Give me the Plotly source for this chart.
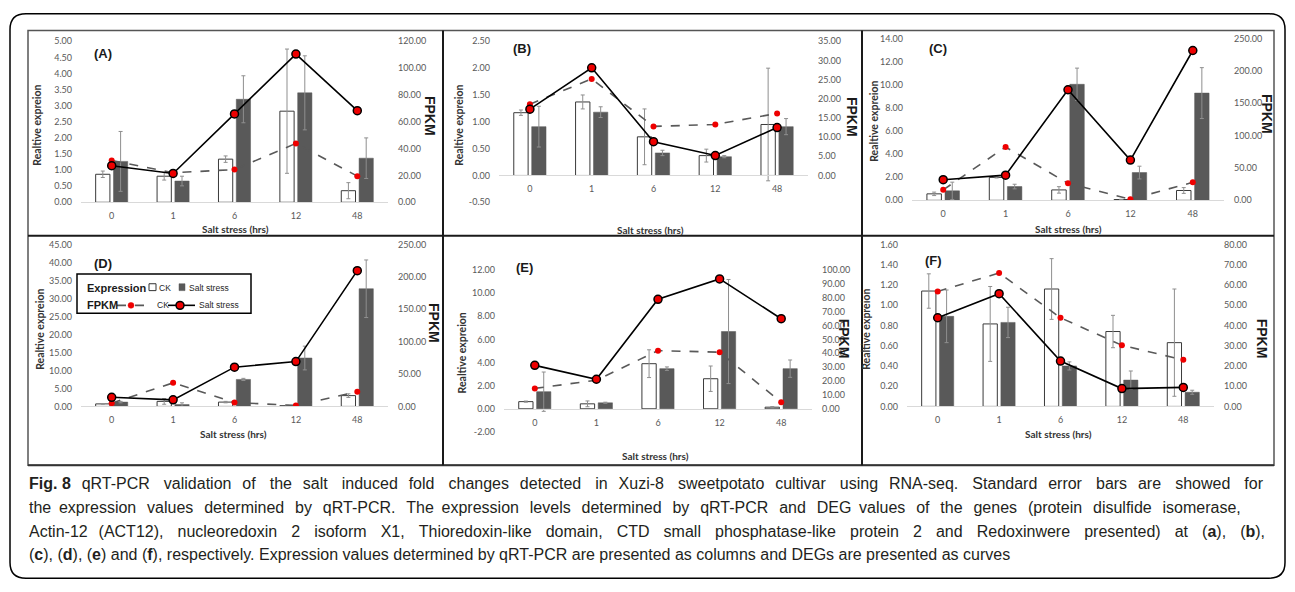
import plotly.graph_objects as go

W, H = 1295, 592

times = ["0", "1", "6", "12", "48"]
panel_labels = ["(A)", "(B)", "(C)", "(D)", "(E)", "(F)"]

# ---- data ----
A_ck = [0.87, 0.81, 1.34, 2.83, 0.36]
A_ck_err = [0.10, 0.12, 0.10, 1.93, 0.25]
A_salt = [1.27, 0.66, 3.20, 3.40, 1.37]
A_salt_err = [0.93, 0.15, 0.73, 1.15, 0.63]
A_fpkm_ck = [31.2, 22.0, 24.4, 43.9, 19.5]
A_fpkm_salt = [27.3, 21.5, 65.9, 110.5, 68.3]

B_ck = [1.17, 1.37, 0.72, 0.37, 0.95]
B_ck_err = [0.05, 0.13, 0.52, 0.12, 1.05]
B_salt = [0.91, 1.18, 0.42, 0.35, 0.91]
B_salt_err = [0.38, 0.10, 0.05, 0.02, 0.15]
B_fpkm_ck = [18.6, 25.2, 12.8, 13.3, 16.2]
B_fpkm_salt = [17.3, 28.1, 8.8, 5.2, 12.5]

C_ck = [0.56, 1.98, 0.90, 0.07, 0.85]
C_ck_err = [0.15, 0.05, 0.28, 0.02, 0.25]
C_salt = [0.82, 1.19, 10.03, 2.40, 9.27]
C_salt_err = [0.75, 0.20, 1.40, 0.55, 2.20]
C_fpkm_ck = [16.2, 82.3, 26.3, 1.5, 27.8]
C_fpkm_salt = [31.8, 38.9, 170.7, 62.1, 231.3]

D_ck = [0.70, 1.40, 1.20, 0.20, 3.00]
D_ck_err = [0.10, 0.80, 0.20, 0.10, 0.50]
D_salt = [1.20, 0.50, 7.50, 13.45, 32.70]
D_salt_err = [0.20, 0.50, 0.30, 3.30, 8.00]
D_fpkm_ck = [5.0, 36.4, 6.0, 1.5, 22.7]
D_fpkm_salt = [14.1, 10.1, 60.6, 69.2, 209.6]

E_ck = [0.62, 0.43, 3.90, 2.60, 0.14]
E_ck_err = [0.05, 0.25, 1.20, 1.10, 0.05]
E_salt = [1.48, 0.52, 3.47, 6.68, 3.47]
E_salt_err = [1.70, 0.05, 0.15, 4.50, 0.75]
E_fpkm_ck = [14.7, 20.6, 41.9, 40.8, 4.7]
E_fpkm_salt = [31.3, 21.3, 78.9, 93.6, 64.9]

F_ck = [1.14, 0.815, 1.16, 0.74, 0.63]
F_ck_err = [0.17, 0.37, 0.30, 0.16, 0.53]
F_salt = [0.89, 0.83, 0.40, 0.26, 0.14]
F_salt_err = [0.26, 0.15, 0.04, 0.09, 0.02]
F_fpkm_ck = [56.8, 65.9, 43.8, 30.2, 23.0]
F_fpkm_salt = [43.8, 55.7, 22.4, 8.8, 9.4]

# left axis ticks / right axis ticks per panel
A_left_ticks = [i * 0.5 for i in range(11)]
A_right_ticks = [i * 20 for i in range(7)]
B_left_ticks = [-0.5 + i * 0.5 for i in range(7)]
B_right_ticks = [i * 5 for i in range(8)]
C_left_ticks = [i * 2 for i in range(8)]
C_right_ticks = [i * 50 for i in range(6)]
D_left_ticks = [i * 5 for i in range(10)]
D_right_ticks = [i * 50 for i in range(6)]
E_left_ticks = [-2 + i * 2 for i in range(8)]
E_right_ticks = [i * 10 for i in range(11)]
F_left_ticks = [i * 0.2 for i in range(9)]
F_right_ticks = [i * 10 for i in range(9)]

panels = [
    dict(ck=A_ck, cke=A_ck_err, salt=A_salt, salte=A_salt_err, fck=A_fpkm_ck, fsalt=A_fpkm_salt,
         lt=A_left_ticks, rt=A_right_ticks, lr=[0, 5], rr=[0, 120],
         x=(81, 388), y=(36, 200)),
    dict(ck=B_ck, cke=B_ck_err, salt=B_salt, salte=B_salt_err, fck=B_fpkm_ck, fsalt=B_fpkm_salt,
         lt=B_left_ticks, rt=B_right_ticks, lr=[-0.5, 2.5], rr=[-7, 35],
         x=(499, 808), y=(36, 200)),
    dict(ck=C_ck, cke=C_ck_err, salt=C_salt, salte=C_salt_err, fck=C_fpkm_ck, fsalt=C_fpkm_salt,
         lt=C_left_ticks, rt=C_right_ticks, lr=[0, 14], rr=[0, 250],
         x=(912, 1224), y=(33, 198)),
    dict(ck=D_ck, cke=D_ck_err, salt=D_salt, salte=D_salt_err, fck=D_fpkm_ck, fsalt=D_fpkm_salt,
         lt=D_left_ticks, rt=D_right_ticks, lr=[0, 45], rr=[0, 250],
         x=(81, 388), y=(243, 408)),
    dict(ck=E_ck, cke=E_ck_err, salt=E_salt, salte=E_salt_err, fck=E_fpkm_ck, fsalt=E_fpkm_salt,
         lt=E_left_ticks, rt=E_right_ticks, lr=[-2, 12], rr=[-100 / 6, 100],
         x=(504, 812), y=(269, 434)),
    dict(ck=F_ck, cke=F_ck_err, salt=F_salt, salte=F_salt_err, fck=F_fpkm_ck, fsalt=F_fpkm_salt,
         lt=F_left_ticks, rt=F_right_ticks, lr=[0, 1.6], rr=[0, 80],
         x=(907, 1214), y=(243, 408)),
]

# text positions (px) for titles
ylab_pos = [(37, 122), (459, 122), (874, 118), (40, 330), (462, 354), (866, 330)]
fpkm_pos = [(430, 112), (852, 113), (1267, 110), (434, 323), (844, 339), (1262, 339)]
xlab_pos = [(235, 227), (650, 228), (1068, 227), (233, 436), (655, 459), (1058, 436)]
plab_pos = [(103, 48), (522, 43), (938, 43), (103, 262), (524, 266), (933, 259)]

TICK = dict(family="Lato", size=9, color="#595959")
DARK = "#595959"
ERR = "#8f8f8f"
RED = "#ee0000"


def px(x):
    return x / W


def py(y):
    return 1 - y / H


def note(text, x, y, size, family="Lato", color="#333333", angle=0, xanchor="center"):
    return dict(text=text, x=px(x), y=py(y), xref="paper", yref="paper", textangle=angle,
                showarrow=False, xanchor=xanchor, yanchor="middle",
                font=dict(family=family, size=size, color=color))


fig = go.Figure()
layout = {}
annotations = []

for i, p in enumerate(panels):
    xn = i + 1
    yl = 2 * i + 1
    yr = 2 * i + 2
    xa = "x" if xn == 1 else f"x{xn}"
    ya_l = "y" if yl == 1 else f"y{yl}"
    ya_r = f"y{yr}"

    fig.add_trace(go.Bar(
        x=times, y=p["ck"], name="CK", xaxis=xa, yaxis=ya_l,
        marker=dict(color="white", line=dict(color="#3a3a3a", width=1)),
        error_y=dict(type="data", array=p["cke"], color=ERR, thickness=1, width=2),
        showlegend=False, offsetgroup="ck",
    ))
    fig.add_trace(go.Bar(
        x=times, y=p["salt"], name="Salt stress", xaxis=xa, yaxis=ya_l,
        marker=dict(color=DARK, line=dict(color=DARK, width=0.5)),
        error_y=dict(type="data", array=p["salte"], color=ERR, thickness=1, width=2),
        showlegend=False, offsetgroup="salt",
    ))
    fig.add_trace(go.Scatter(
        x=times, y=p["fck"], name="CK", xaxis=xa, yaxis=ya_r, mode="lines+markers",
        line=dict(color="#595959", width=1.6, dash="dash"),
        marker=dict(color=RED, size=6),
        showlegend=False,
    ))
    fig.add_trace(go.Scatter(
        x=times, y=p["fsalt"], name="Salt stress", xaxis=xa, yaxis=ya_r, mode="lines+markers",
        line=dict(color="black", width=1.6),
        marker=dict(color=RED, size=8, line=dict(color="black", width=1.5)),
        showlegend=False,
    ))

    x0, x1 = p["x"]
    ytop, ybot = p["y"]
    lo, hi = p["lr"]
    yzero = ytop + (hi - 0) / (hi - lo) * (ybot - ytop)

    layout["xaxis" if xn == 1 else f"xaxis{xn}"] = dict(
        domain=[px(x0), px(x1)], anchor="free", position=py(yzero),
        type="category", categoryorder="array", categoryarray=times,
        showline=True, linecolor="#d9d9d9", linewidth=1, ticks="",
        tickfont=TICK, ticklabelstandoff=5, showgrid=False, zeroline=False,
    )
    layout["yaxis" if yl == 1 else f"yaxis{yl}"] = dict(
        domain=[py(ybot), py(ytop)], anchor=xa, range=p["lr"],
        tickvals=p["lt"], ticktext=[f"{v:.2f}" for v in p["lt"]],
        showgrid=False, zeroline=False, showline=False, ticks="",
        tickfont=TICK, ticklabelstandoff=8,
    )
    layout[f"yaxis{yr}"] = dict(
        overlaying=ya_l, side="right", anchor=xa, range=p["rr"],
        tickvals=p["rt"], ticktext=[f"{v:.2f}" for v in p["rt"]],
        showgrid=False, zeroline=False, showline=False, ticks="",
        tickfont=TICK, ticklabelstandoff=9,
    )

    annotations.append(note("<b>Realtive expreion</b>", *ylab_pos[i], 10.5, angle=-90))
    annotations.append(note("<b>FPKM</b>", *fpkm_pos[i], 14, family="Liberation Sans",
                            color="#1a1a1a", angle=90))
    annotations.append(note("<b>Salt stress (hrs)</b>", *xlab_pos[i], 10))
    annotations.append(note(f"<b>{panel_labels[i]}</b>", *plab_pos[i], 13,
                            family="Liberation Sans", color="#1a1a1a"))

# legend of panel D (drawn as a key box)
LEGF = "Liberation Sans"
annotations.append(note("<b>Expression</b>", 85, 287, 11, family=LEGF,
                        color="#1a1a1a", xanchor="left"))
annotations.append(note("CK", 157, 287, 8.5, family=LEGF, color="#262626", xanchor="left"))
annotations.append(note("Salt stress", 187, 287, 8.5, family=LEGF, color="#262626",
                        xanchor="left"))
annotations.append(note("<b>FPKM</b>", 85, 305, 11, family=LEGF,
                        color="#1a1a1a", xanchor="left"))
annotations.append(note("CK", 155, 305, 8.5, family=LEGF, color="#262626", xanchor="left"))
annotations.append(note("Salt stress", 197, 305, 8.5, family=LEGF, color="#262626",
                        xanchor="left"))

# caption (justified lines: extra thin spaces spread between words)
caption_lines = [
    "<b>Fig.\u00a08</b> qRT-PCR validation of the salt induced fold changes detected in Xuzi-8 sweetpotato cultivar using RNA-seq. Standard error bars are showed for",
    "the expression values determined by qRT-PCR. The expression levels determined by qRT-PCR and DEG values of the genes (protein disulfide isomerase,",
    "Actin-12 (ACT12), nucleoredoxin 2 isoform X1, Thioredoxin-like domain, CTD small phosphatase-like protein 2 and Redoxinwere presented) at (<b>a</b>), (<b>b</b>),",
    "(<b>c</b>), (<b>d</b>), (<b>e</b>) and (<b>f</b>), respectively. Expression values determined by qRT-PCR are presented as columns and DEGs are presented as curves",
]
cap_extra_total = [53, 37, 53, 0]
cap_y = [487, 511, 535, 559]


def justify(text, total):
    words = text.split(" ")
    gaps = len(words) - 1
    out = words[0]
    for k in range(gaps):
        n = (k + 1) * total // gaps - k * total // gaps
        out += " " + "\u2009" * n + words[k + 1]
    return out


for t, n, yy in zip(caption_lines, cap_extra_total, cap_y):
    annotations.append(note(justify(t, n), 27, yy, 16, family="Liberation Sans",
                            color="#231f20", xanchor="left"))


def rounded_rect(x0, y0, x1, y1, r):
    X = lambda v: px(v)
    Y = lambda v: py(v)
    return (f"M {X(x0 + r)},{Y(y0)} L {X(x1 - r)},{Y(y0)} Q {X(x1)},{Y(y0)} {X(x1)},{Y(y0 + r)} "
            f"L {X(x1)},{Y(y1 - r)} Q {X(x1)},{Y(y1)} {X(x1 - r)},{Y(y1)} "
            f"L {X(x0 + r)},{Y(y1)} Q {X(x0)},{Y(y1)} {X(x0)},{Y(y1 - r)} "
            f"L {X(x0)},{Y(y0 + r)} Q {X(x0)},{Y(y0)} {X(x0 + r)},{Y(y0)} Z")


def pline(x0, y0, x1, y1, color, width, dash="solid"):
    return dict(type="line", x0=px(x0), x1=px(x1), y0=py(y0), y1=py(y1), xref="paper",
                yref="paper", line=dict(color=color, width=width, dash=dash))


def pbox(x0, y0, x1, y1, line, width, fill):
    return dict(type="rect", x0=px(x0), x1=px(x1), y0=py(y1), y1=py(y0), xref="paper",
                yref="paper", line=dict(color=line, width=width), fillcolor=fill)


def pdot(cx, cy, r, fill, line, width):
    return dict(type="circle", x0=px(cx - r), x1=px(cx + r), y0=py(cy + r), y1=py(cy - r),
                xref="paper", yref="paper", fillcolor=fill, line=dict(color=line, width=width))


shapes = [
    dict(type="path", path=rounded_rect(10, 8, 1285, 583, 16), xref="paper", yref="paper",
         line=dict(color="black", width=1.5)),
    pbox(28, 25, 1274, 468, "#555555", 1.5, "rgba(0,0,0,0)"),
    pline(28, 234, 1274, 234, "#1a1a1a", 2),
    pline(28, 468, 1274, 468, "#333333", 2),
    pline(443, 25, 443, 468, "#1a1a1a", 2),
    pline(862, 25, 862, 468, "#1a1a1a", 2),
    # legend key box of panel D
    pbox(77, 273, 251, 313, "black", 1.5, "rgba(0,0,0,0)"),
    pbox(149, 283, 156, 290, "#333333", 1, "white"),
    pbox(179, 283, 185, 290, DARK, 0.5, DARK),
    pline(117, 305, 152, 305, "#595959", 1.6, "dash"),
    pdot(131, 305, 3, RED, RED, 0.5),
    pline(168, 305, 195, 305, "black", 1.6),
    pdot(180, 305, 4, RED, "black", 1.5),
]

fig.update_layout(
    width=W, height=H, margin=dict(l=0, r=0, t=0, b=0),
    paper_bgcolor="white", plot_bgcolor="rgba(0,0,0,0)",
    barmode="group", bargap=0.42, bargroupgap=0.2,
    annotations=annotations, shapes=shapes, showlegend=False,
    **layout,
)

fig.write_html("out.html", config={"displayModeBar": False},
               post_script="document.body.style.margin='0';document.body.style.overflow='hidden';")
